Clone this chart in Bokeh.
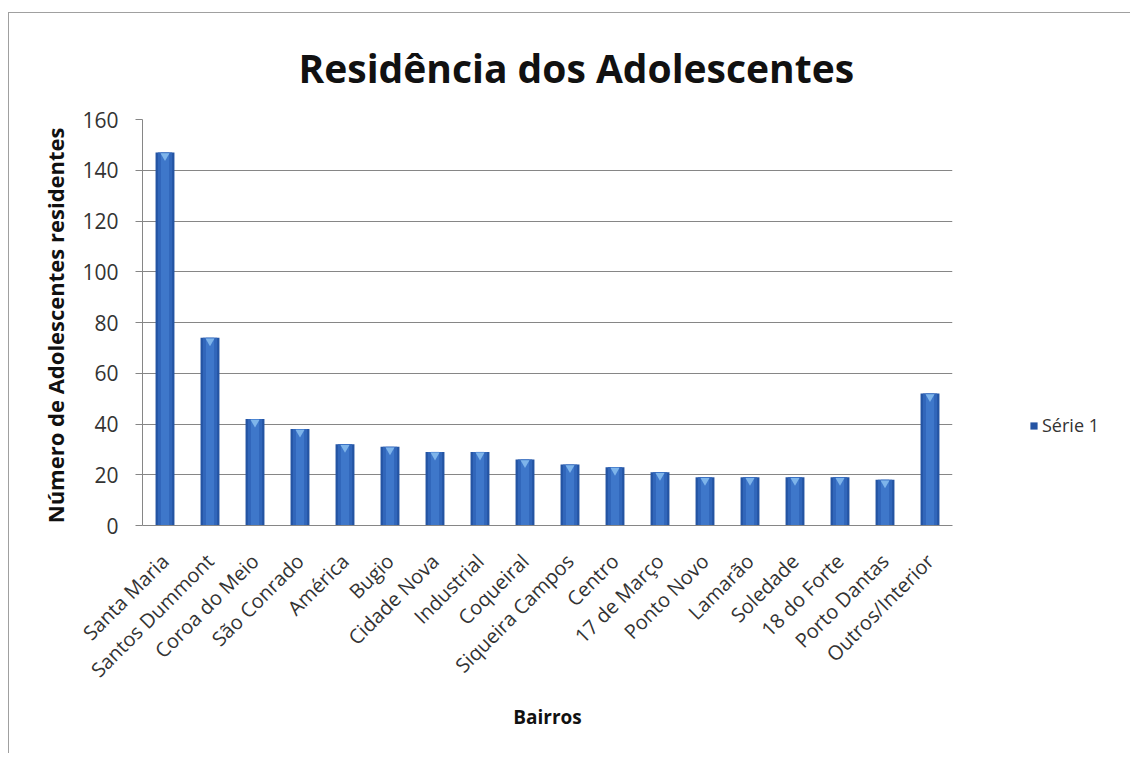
from math import pi
from bokeh.plotting import figure
from bokeh.models import ColumnDataSource, Legend, LegendItem, Title, FixedTicker
from bokeh.embed import file_html
from bokeh.resources import INLINE

bairros = ["Santa Maria", "Santos Dummont", "Coroa do Meio", "São Conrado", "América",
           "Bugio", "Cidade Nova", "Industrial", "Coqueiral", "Siqueira Campos", "Centro",
           "17 de Março", "Ponto Novo", "Lamarão", "Soledade", "18 do Forte",
           "Porto Dantas", "Outros/Interior"]
residentes = [147, 74, 42, 38, 32, 31, 29, 29, 26, 24, 23, 21, 19, 19, 19, 19, 18, 52]
y_ticks = [0, 20, 40, 60, 80, 100, 120, 140, 160]
series_name = "Série 1"

src = ColumnDataSource(dict(x=bairros, y=residentes,
                            cap=[v - 1.3 for v in residentes]))

FONT = "Open Sans"

p = figure(x_range=bairros, y_range=(0, 160), frame_width=810, frame_height=406,
           output_backend="svg", toolbar_location=None,
           min_border_left=133, min_border_right=160,
           min_border_top=106, min_border_bottom=228,
           background_fill_color="white", border_fill_color="white")
p.outline_line_color = None
p.margin = (12, 0, 0, 8)
p.styles = {"border-top": "1px solid #a0a0a0", "border-left": "1px solid #a0a0a0"}

# bars with a cylinder-like shading
base = p.vbar(x="x", top="y", width=0.42, source=src, fill_color="#2454a3", line_color=None)
p.vbar(x="x", top="y", width=0.32, source=src, fill_color="#3166ba", line_color=None)
p.vbar(x="x", top="y", width=0.18, source=src, fill_color="#3e77ca", line_color=None)
p.scatter(x="x", y="cap", source=src, marker="inverted_triangle", size=9,
          fill_color="#7eb4ea", line_color=None)

# title
t = Title(text="Residência dos Adolescentes", align="left", offset=156,
          text_font=FONT, text_font_size="39px", text_font_style="bold",
          text_color="#111111", standoff=51)
p.add_layout(t, "above")

# axes
p.yaxis.ticker = FixedTicker(ticks=y_ticks)
p.yaxis.axis_label = "Número de Adolescentes  residentes"
p.yaxis.axis_label_text_font = FONT
p.yaxis.axis_label_text_font_size = "22px"
p.yaxis.axis_label_text_font_style = "bold"
p.yaxis.axis_label_text_color = "#111111"
p.yaxis.axis_label_standoff = 9
p.yaxis.major_label_text_font = FONT
p.yaxis.major_label_text_font_size = "21px"
p.yaxis.major_label_text_color = "#333333"
p.yaxis.major_label_standoff = 17
p.yaxis.axis_line_color = "#868686"
p.yaxis.major_tick_line_color = "#868686"
p.yaxis.major_tick_out = 7
p.yaxis.major_tick_in = 0
p.yaxis.minor_tick_line_color = None

p.xaxis.axis_label = "Bairros"
p.xaxis.axis_label_text_font = FONT
p.xaxis.axis_label_text_font_size = "19px"
p.xaxis.axis_label_text_font_style = "bold"
p.xaxis.axis_label_text_color = "#111111"
p.xaxis.axis_label_standoff = 9
p.xaxis.major_label_orientation = pi / 4
p.xaxis.major_label_text_font = FONT
p.xaxis.major_label_text_font_size = "20px"
p.xaxis.major_label_text_color = "#333333"
p.xaxis.major_label_standoff = 26
p.xaxis.axis_line_color = "#868686"
p.xaxis.major_tick_line_color = None

p.xgrid.grid_line_color = None
p.ygrid.grid_line_color = "#868686"
p.ygrid.grid_line_width = 1

legend = Legend(items=[LegendItem(label=series_name, renderers=[base])],
                location=(77, 88), orientation="vertical",
                label_text_font=FONT, label_text_font_size="18px",
                label_text_color="#333333", glyph_width=9, glyph_height=9,
                label_standoff=4, padding=0, spacing=0,
                border_line_color=None, background_fill_alpha=0)
p.add_layout(legend, "right")

open("out.html", "w").write(file_html(p, INLINE))
